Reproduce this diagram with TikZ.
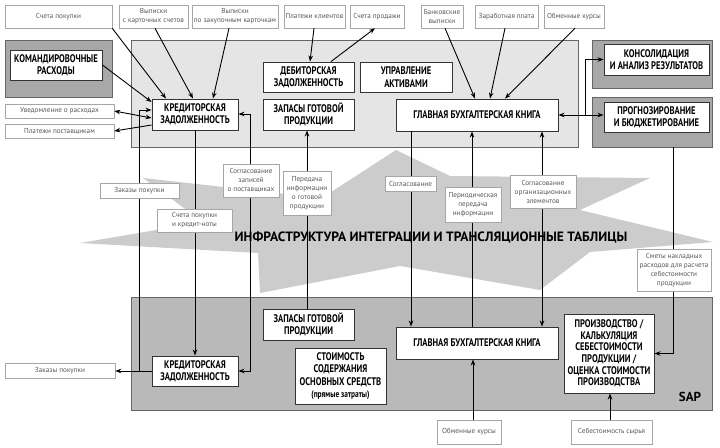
\documentclass[tikz,border=0pt]{standalone}
\usepackage{fontspec}
\setmainfont{PT Sans}
\newfontfamily\condfont[FakeStretch=0.78]{PT Sans}
\usetikzlibrary{arrows.meta}

\tikzset{
  panel/.style={draw=gray!80!black,line width=0.6pt,inner sep=0pt},
  bigbox/.style={draw=black!80,fill=white,line width=0.9pt,inner sep=0pt,align=center,
    font=\condfont\bfseries\fontsize{11}{12.3}\selectfont},
  smallbox/.style={draw=gray!70,fill=white,line width=0.5pt,inner sep=0pt,align=center,
    text=black!65,font=\fontsize{7.2}{9}\selectfont},
  link/.style={line width=0.9pt,black}
}

\begin{document}
\begin{tikzpicture}[x=1pt,y=-1pt,>={Stealth[length=6pt,width=4.5pt]}]

\useasboundingbox (0,0) rectangle (720,447);

% gray areas
\node[panel,fill=gray!20,minimum width=447,minimum height=107] (toppanel) at (354.5,93.5) {};
\node[panel,fill=gray!55,minimum width=581,minimum height=113] (botpanel) at (421.5,353.5) {};
\node[panel,fill=gray!68,minimum width=107,minimum height=57] (komandpanel) at (58.5,68.5) {};
\node[panel,fill=gray!68,minimum width=120,minimum height=48] (konsolpanel) at (652,64) {};
\node[panel,fill=gray!68,minimum width=120,minimum height=50] (prognozpanel) at (652,122) {};

\fill[gray!40] (396,150) -- (450,176) -- (650,178) -- (580,210) -- (713,242) -- (590,252)
  -- (540,290) -- (400,266) -- (260,293) -- (258,253) -- (80,243) -- (203,222)
  -- (143,178) -- (322,198) -- cycle;

% modules
\node[bigbox,minimum width=92,minimum height=30] (komand) at (56,65) {КОМАНДИРОВОЧНЫЕ\\РАСХОДЫ};
\node[bigbox,minimum width=86,minimum height=31] (kred1) at (195,114.5) {КРЕДИТОРСКАЯ\\ЗАДОЛЖЕННОСТЬ};
\node[bigbox,minimum width=91,minimum height=30] (debit) at (308.5,77) {ДЕБИТОРСКАЯ\\ЗАДОЛЖЕННОСТЬ};
\node[bigbox,minimum width=91,minimum height=31] (zapas1) at (308.5,114.5) {ЗАПАСЫ ГОТОВОЙ\\ПРОДУКЦИИ};
\node[bigbox,minimum width=92,minimum height=30] (uprav) at (406,77) {УПРАВЛЕНИЕ\\АКТИВАМИ};
\node[bigbox,minimum width=162,minimum height=32] (glav1) at (477,115) {ГЛАВНАЯ БУХГАЛТЕРСКАЯ КНИГА};
\node[bigbox,minimum width=105,minimum height=31] (konsol) at (656.5,59.5) {КОНСОЛИДАЦИЯ\\И АНАЛИЗ РЕЗУЛЬТАТОВ};
\node[bigbox,minimum width=105,minimum height=30] (prognoz) at (656.5,117) {ПРОГНОЗИРОВАНИЕ\\И БЮДЖЕТИРОВАНИЕ};
\node[bigbox,minimum width=91,minimum height=31] (zapas2) at (308.5,324.5) {ЗАПАСЫ ГОТОВОЙ\\ПРОДУКЦИИ};
\node[bigbox,minimum width=86,minimum height=30] (kred2) at (195,371) {КРЕДИТОРСКАЯ\\ЗАДОЛЖЕННОСТЬ};
\node[bigbox,minimum width=91,minimum height=56] (stoim) at (340.5,376) {СТОИМОСТЬ\\СОДЕРЖАНИЯ\\ОСНОВНЫХ СРЕДСТВ\\{\fontsize{9.5}{11}\selectfont(прямые затраты)}};
\node[bigbox,minimum width=162,minimum height=32] (glav2) at (477,343) {ГЛАВНАЯ БУХГАЛТЕРСКАЯ КНИГА};
\node[bigbox,minimum width=90,minimum height=79,font=\condfont\bfseries\fontsize{11}{11.7}\selectfont] (proizv) at (609,353.5) {ПРОИЗВОДСТВО /\\КАЛЬКУЛЯЦИЯ\\СЕБЕСТОИМОСТИ\\ПРОДУКЦИИ /\\ОЦЕНКА СТОИМОСТИ\\ПРОИЗВОДСТВА};

% sources and outputs
\node[smallbox,minimum width=107,minimum height=23] (schetpok) at (58.5,16.5) {Счета покупки};
\node[smallbox,minimum width=69,minimum height=23] (vypkart) at (153.5,16.5) {Выписки\\с карточных счетов};
\node[smallbox,minimum width=86,minimum height=23] (vypzak) at (235,16.5) {Выписки\\по закупочным карточкам};
\node[smallbox,minimum width=61,minimum height=23] (platklient) at (314.5,16.5) {Платежи клиентов};
\node[smallbox,minimum width=54,minimum height=23] (schetprod) at (377,16.5) {Счета продажи};
\node[smallbox,minimum width=42,minimum height=23] (bankvyp) at (442,16.5) {Банковские\\выписки};
\node[smallbox,minimum width=63,minimum height=23] (zarplata) at (506.5,16.5) {Заработная плата};
\node[smallbox,minimum width=60,minimum height=23] (kursy1) at (574,16.5) {Обменные курсы};
\node[smallbox,minimum width=109,minimum height=14] (uvedoml) at (59.5,111) {Уведомление о расходах};
\node[smallbox,minimum width=109,minimum height=14] (platpost) at (59.5,131) {Платежи поставщикам};
\node[smallbox,minimum width=110,minimum height=15] (zakaz2) at (60,370.5) {Заказы покупки};
\node[smallbox,minimum width=64,minimum height=24] (kursy2) at (469,432) {Обменные курсы};
\node[smallbox,minimum width=81,minimum height=24] (syrye) at (611.5,432) {Себестоимость сырья};

% top links
\draw[link,->] (schetpok.south east) -- (166,0 |- kred1.north);
\draw[link,->] (155,0 |- vypkart.south) -- (193,0 |- kred1.north);
\draw[link,->] (229,0 |- vypzak.south) -- (213,0 |- kred1.north);
\draw[link,->] (komand.east) -- (kred1.west |- 0,102);
\draw[link,<->] (uvedoml.east) -- (kred1.west |- 0,118);
\draw[link,->] (kred1.west |- 0,125) -- (platpost.east);
\draw[link,->] (314,0 |- platklient.south) -- (310,0 |- debit.north);
\draw[link,->] (331,0 |- debit.north) -- (375,0 |- schetprod.south);
\draw[link,->] (445,0 |- bankvyp.south) -- (475,0 |- glav1.north);
\draw[link,->] (505,0 |- zarplata.south) -- (490,0 |- glav1.north);
\draw[link,->] (575,0 |- kursy1.south) -- (505,0 |- glav1.north);
\draw[link,<->] (glav1.east) -- (glav1.east -| prognoz.west);
\draw[link,->] (585,0 |- glav1.east) |- (konsol.west);

% between the two systems
\draw[link,->] (139,0 |- kred2.west) |- (kred1.west |- 0,110);
\draw[link,->] (kred2.west) -- (kred2.west -| zakaz2.east);
\draw[link,->] (195,0 |- kred1.south) -- (195,0 |- kred2.north);
\draw[link,<->] (kred1.east |- 0,114) -| (250,0 |- kred2.east) -- (kred2.east);
\draw[link,->] (307,0 |- zapas2.north) -- (307,0 |- zapas1.south);
\draw[link,->] (411,0 |- glav1.south) -- (411,0 |- glav2.north);
\draw[link,->] (472,0 |- glav2.north) -- (472,0 |- glav1.south);
\draw[link,<->] (542,0 |- glav1.south) -- (542,0 |- glav2.north);
\draw[link,->] (673,0 |- prognozpanel.south) |- (proizv.east);
\draw[link,->] (473,0 |- kursy2.north) -- (473,0 |- glav2.south);
\draw[link,->] (610,0 |- syrye.north) -- (610,0 |- proizv.south);

% labels on the links
\node[smallbox,minimum width=79,minimum height=15] (lzakaz) at (139.5,190.5) {Заказы покупки};
\node[smallbox,minimum width=75,minimum height=23] (lschet) at (194.5,220.5) {Счета покупки\\и кредит-ноты};
\node[smallbox,minimum width=56,minimum height=33] (lsogl1) at (251,180.5) {Согласование\\записей\\о поставщиках};
\node[smallbox,minimum width=48,minimum height=44] (lpered) at (307,193) {Передача\\информации\\о готовой\\продукции};
\node[smallbox,minimum width=51,minimum height=15] (lsogl2) at (410.5,183.5) {Согласование};
\node[smallbox,minimum width=56,minimum height=35] (lperiod) at (473,204.5) {Периодическая\\передача\\информации};
\node[smallbox,minimum width=66,minimum height=33] (lsogl3) at (543,191.5) {Согласование\\организационных\\элементов};
\node[smallbox,minimum width=74,minimum height=42] (lsmety) at (674,270) {Сметы накладных\\расходов для расчета\\себестоимости\\продукции};

\node[font=\bfseries\fontsize{13.5}{15}\selectfont] (infra) at (431,237) {ИНФРАСТРУКТУРА ИНТЕГРАЦИИ И ТРАНСЛЯЦИОННЫЕ ТАБЛИЦЫ};
\node[font=\bfseries\fontsize{13}{15}\selectfont] (sap) at (690,397) {SAP};
\end{tikzpicture}
\end{document}
